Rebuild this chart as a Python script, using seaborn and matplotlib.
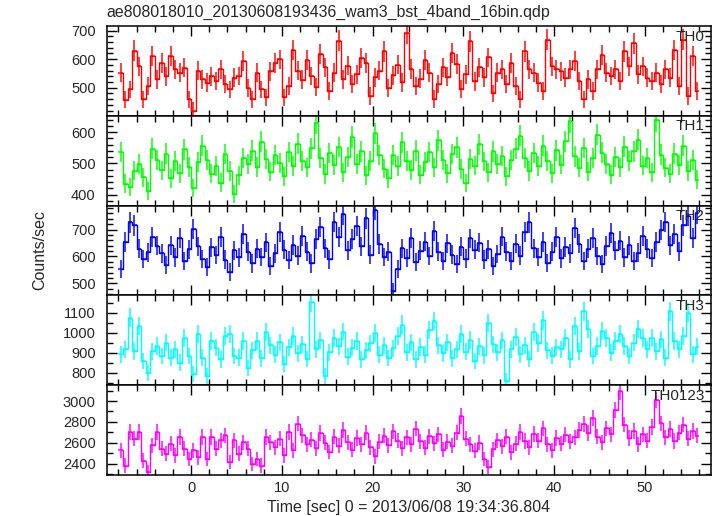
import matplotlib
matplotlib.use("Agg")
import numpy as np
import pandas as pd
import seaborn as sns
from matplotlib import pyplot as plt
from matplotlib.ticker import MultipleLocator

# 0.5 s bins, 128 per band, starting at t = -8 s
BIN = 0.5
T_START = -8.0

th0 = [552, 458, 494, 630, 575, 460, 505, 610, 530, 587,
       540, 610, 564, 552, 570, 460, 420, 560, 530, 518,
       540, 524, 564, 512, 494, 535, 541, 593, 500, 460,
       552, 494, 466, 558, 587, 599, 466, 506, 633, 560,
       528, 596, 541, 502, 618, 571, 489, 553, 664, 530,
       577, 512, 548, 603, 586, 471, 536, 559, 627, 498,
       544, 581, 519, 690, 566, 507, 532, 598, 553, 461,
       514, 572, 539, 621, 584, 495, 548, 663, 522, 571,
       537, 606, 480, 553, 564, 512, 587, 506, 460, 627,
       564, 552, 518, 489, 668, 575, 564, 558, 535, 564,
       593, 524, 460, 530, 489, 564, 616, 552, 541, 564,
       524, 627, 575, 656, 547, 575, 535, 524, 552, 512,
       564, 535, 633, 506, 668, 472, 610, 489]

th1 = [536, 435, 424, 477, 499, 456, 413, 547, 510,
       478, 531, 452, 507, 468, 545, 489, 421, 503, 556,
       512, 467, 492, 438, 529, 476, 401, 462, 518, 497,
       541, 488, 569, 514, 473, 527, 502, 458, 536, 491,
       562, 509, 487, 548, 628, 517, 466, 533, 495, 552,
       471, 519, 584, 497, 538, 462, 508, 596, 527, 483,
       452, 526, 491, 567, 508, 479, 541, 463, 503, 536,
       487, 574, 512, 468, 529, 551, 482, 437, 514, 493,
       561, 506, 472, 538, 497, 524, 458, 511, 547, 589,
       518, 476, 533, 491, 557, 509, 468, 542, 496, 571,
       634, 522, 486, 549, 473, 517, 592, 534, 498, 463,
       521, 487, 553, 509, 538, 576, 493, 518, 472, 637,
       528, 486, 467, 531, 494, 557, 476, 512, 448]

th2 = [553, 653, 727, 715, 628, 590, 615, 671, 640,
       612, 568, 641, 597, 668, 583, 627, 702, 638, 591,
       559, 634, 605, 671, 588, 541, 622, 596, 683, 617,
       574, 629, 598, 652, 563, 611, 689, 624, 587, 642,
       603, 677, 618, 574, 664, 708, 631, 589, 728, 671,
       756, 622, 664, 712, 638, 741, 607, 773, 646, 598,
       617, 472, 553, 631, 594, 668, 579, 621, 655, 602,
       694, 618, 583, 649, 607, 571, 636, 592, 667, 624,
       651, 588, 626, 563, 609, 674, 617, 582, 648, 603,
       689, 727, 631, 598, 654, 576, 618, 672, 593, 635,
       612, 706, 647, 584, 628, 668, 601, 573, 639, 686,
       622, 659, 597, 641, 584, 613, 676, 628, 594, 653,
       697, 728, 641, 684, 619, 715, 752, 668, 761]

th3 = [892, 917, 1075, 908, 1033, 858, 800, 908, 933, 883,
       950, 875, 917, 850, 975, 883, 792, 992, 875, 783,
       958, 925, 867, 983, 992, 883, 875, 958, 825,
       912, 958, 871, 1004, 937, 889, 951, 842, 926, 983,
       897, 941, 868, 1152, 918, 962, 784, 903, 972, 931,
       1006, 879, 924, 958, 866, 913, 947, 998, 889, 936,
       874, 921, 983, 1041, 902, 951, 867, 928, 889, 1012,
       1058, 937, 896, 952, 871, 918, 994, 905, 963, 857,
       931, 886, 1047, 942, 903, 961, 758, 917, 978, 892,
       936, 868, 1003, 949, 1062, 911, 884, 927,
       917, 975, 867, 1033, 908, 1108, 1017, 883, 933, 1008,
       975, 900, 958, 992, 933, 883, 950, 1017, 975, 917,
       975, 908, 967, 875, 1108, 958, 917, 983, 1100, 892, 930]

th0123 = [2528, 2384, 2704, 2640, 2704, 2432, 2320, 2576, 2704, 2544,
          2496, 2592, 2480, 2656, 2544, 2448, 2528, 2464, 2656, 2448,
          2656, 2544, 2624, 2672, 2416, 2624, 2496, 2608, 2544, 2400,
          2448, 2384, 2656, 2608, 2560, 2640, 2480, 2704, 2528, 2784,
          2672, 2588, 2631, 2547, 2694, 2602, 2513, 2658, 2571, 2724,
          2604, 2536, 2648, 2589, 2697, 2558, 2472, 2613, 2668, 2579,
          2709, 2621, 2548, 2652, 2587, 2736, 2615, 2553, 2662, 2598,
          2681, 2534, 2612, 2574, 2698, 2856, 2642, 2589, 2527, 2603,
          2447, 2371, 2538, 2626, 2569, 2661, 2512, 2594, 2703, 2618,
          2557, 2684, 2623, 2738, 2586, 2531, 2647, 2592, 2678, 2613,
          2652, 2724, 2781, 2693, 2836, 2658, 2607, 2739, 2682, 2914,
          3091, 2774, 2646, 2712, 2589, 2683, 2621, 2752, 3012, 2786,
          2654, 2731, 2618, 2697, 2775, 2642, 2713, 2668]

bands = ["TH0", "TH1", "TH2", "TH3", "TH0123"]
colors = ["#ff0000", "#00ff00", "#0000ff", "#00ffff", "#ff00ff"]
ylims = [(402, 716), (365, 652), (455, 789), (737, 1187), (2294, 3151)]
major_steps = [100, 100, 100, 100, 200]
minor_steps = [20, 20, 20, 50, 100]

sns.set_style("ticks")
plt.rcParams["font.family"] = ["Liberation Sans", "DejaVu Sans"]
plt.rcParams["font.size"] = 10.5

fig = plt.figure(figsize=(7.17, 5.16), dpi=100)
axes = fig.subplots(5, 1, sharex=True, gridspec_kw={"hspace": 0})
fig.subplots_adjust(left=0.149, right=0.9916, top=0.9496, bottom=0.0795)

for ax, name, rate, col, ylim, mj, mn in zip(
    axes, bands, [th0, th1, th2, th3, th0123], colors, ylims, major_steps, minor_steps
):
    rate = np.array(rate, dtype=float)
    t = T_START + BIN / 2 + BIN * np.arange(len(rate))
    df = pd.DataFrame({"time": t, "rate": rate})
    sns.lineplot(data=df, x="time", y="rate", drawstyle="steps-mid",
                 color=col, lw=1.0, ax=ax)
    # poisson errors for counts in each bin
    ax.errorbar(t, rate, xerr=BIN / 2, yerr=np.sqrt(rate / BIN), fmt="none",
                ecolor=col, elinewidth=1.4, alpha=0.75)
    ax.set_ylim(*ylim)
    ax.set_xlim(-9.28, 57.28)
    ax.set_xlabel("")
    ax.set_ylabel("")
    ax.yaxis.set_major_locator(MultipleLocator(mj))
    ax.yaxis.set_minor_locator(MultipleLocator(mn))
    ax.xaxis.set_major_locator(MultipleLocator(10))
    ax.xaxis.set_minor_locator(MultipleLocator(2))
    ax.tick_params(which="both", direction="in", top=True, right=True,
                   color="black", width=1)
    ax.tick_params(which="major", length=7)
    ax.tick_params(which="minor", length=4)
    ax.tick_params(axis="y", pad=8, labelsize=10.5)
    ax.tick_params(axis="x", pad=4, labelsize=10.5)
    for s in ax.spines.values():
        s.set_linewidth(1.1)
        s.set_color("black")
    ax.text(0.99, 0.96, name, transform=ax.transAxes, ha="right", va="top",
            fontsize=11)

fig.text(0.149, 0.975, "ae808018010_20130608193436_wam3_bst_4band_16bin.qdp",
         ha="left", va="center", fontsize=11.4)
fig.text(0.056, 0.515, "Counts/sec", rotation=90, ha="center", va="center",
         fontsize=11.5)
fig.text(0.57, 0.017, "Time [sec] 0 = 2013/06/08 19:34:36.804",
         ha="center", va="center", fontsize=11.5)

fig.savefig("out.png", dpi=100)
